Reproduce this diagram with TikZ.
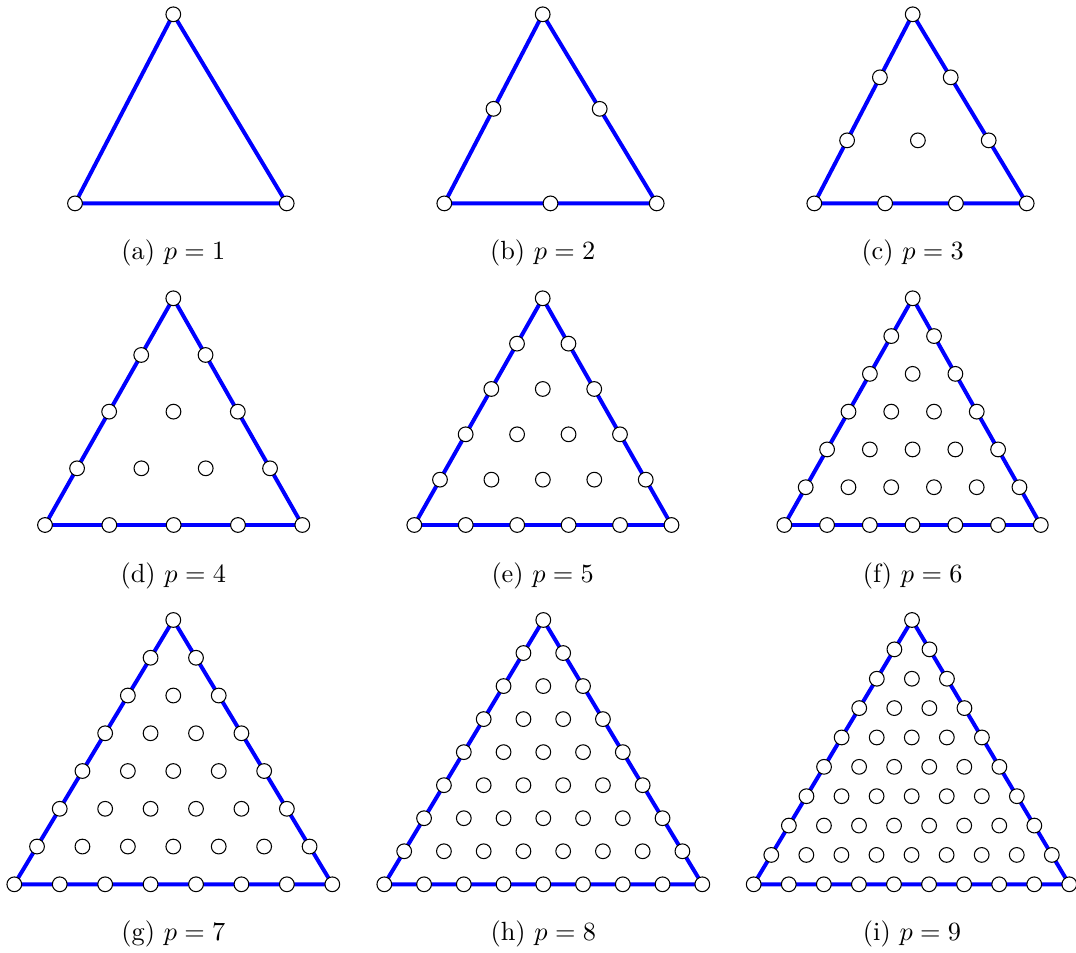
\documentclass[tikz,border=0pt]{standalone}
\usetikzlibrary{calc}
\definecolor{EdgeBlue}{RGB}{0,0,255}

\begin{document}
\begin{tikzpicture}[x=0.38pt, y=-0.38pt,
    edge/.style={EdgeBlue, line width=1.5pt, line join=round},
    dof/.style={circle, draw, fill=white, line width=0.4pt, inner sep=0pt,
                minimum size=5.6pt},
    subcap/.style={anchor=base}]
  \useasboundingbox (0,0) rectangle (1076,953);
  % panel / order / left x / right x / top x / base y / top y / caption y
  \foreach \n/\p/\xl/\xr/\xt/\yb/\yt/\yc in {
      a/1/75/286.7/173.3/203.4/14.3/260,
      b/2/444.3/656.7/542.7/203.4/14.3/260,
      c/3/814.3/1026.7/912.7/203.4/14.3/260,
      d/4/45/302.3/173.3/525/298.3/582.3,
      e/5/414.3/671.5/542.7/525/298.3/582.3,
      f/6/784.3/1040.8/912.7/525/298.3/582.3,
      g/7/14.3/332.3/173.3/884.3/620/940,
      h/8/384.3/702.3/543.3/884.3/620/940,
      i/9/753.7/1069.3/912/884.3/620/940} {
    \coordinate (\n L) at (\xl,\yb);
    \coordinate (\n R) at (\xr,\yb);
    \coordinate (\n T) at (\xt,\yt);
    \draw[edge] (\n L) -- (\n R) -- (\n T) -- cycle;
    \foreach \j in {0,...,\p} {
      \pgfmathtruncatemacro{\imax}{\p-\j}
      \foreach \i in {0,...,\imax} {
        \pgfmathsetmacro{\px}{\xl+(\i*(\xr-\xl)+\j*(\xt-\xl))/\p}
        \pgfmathsetmacro{\py}{\yb+\j*(\yt-\yb)/\p}
        \node[dof] (\n-\i-\j) at (\px,\py) {};
      }
    }
    \node[subcap] (cap\n) at (\xt,\yc) {(\n) $p=\p$};
  }
\end{tikzpicture}
\end{document}
